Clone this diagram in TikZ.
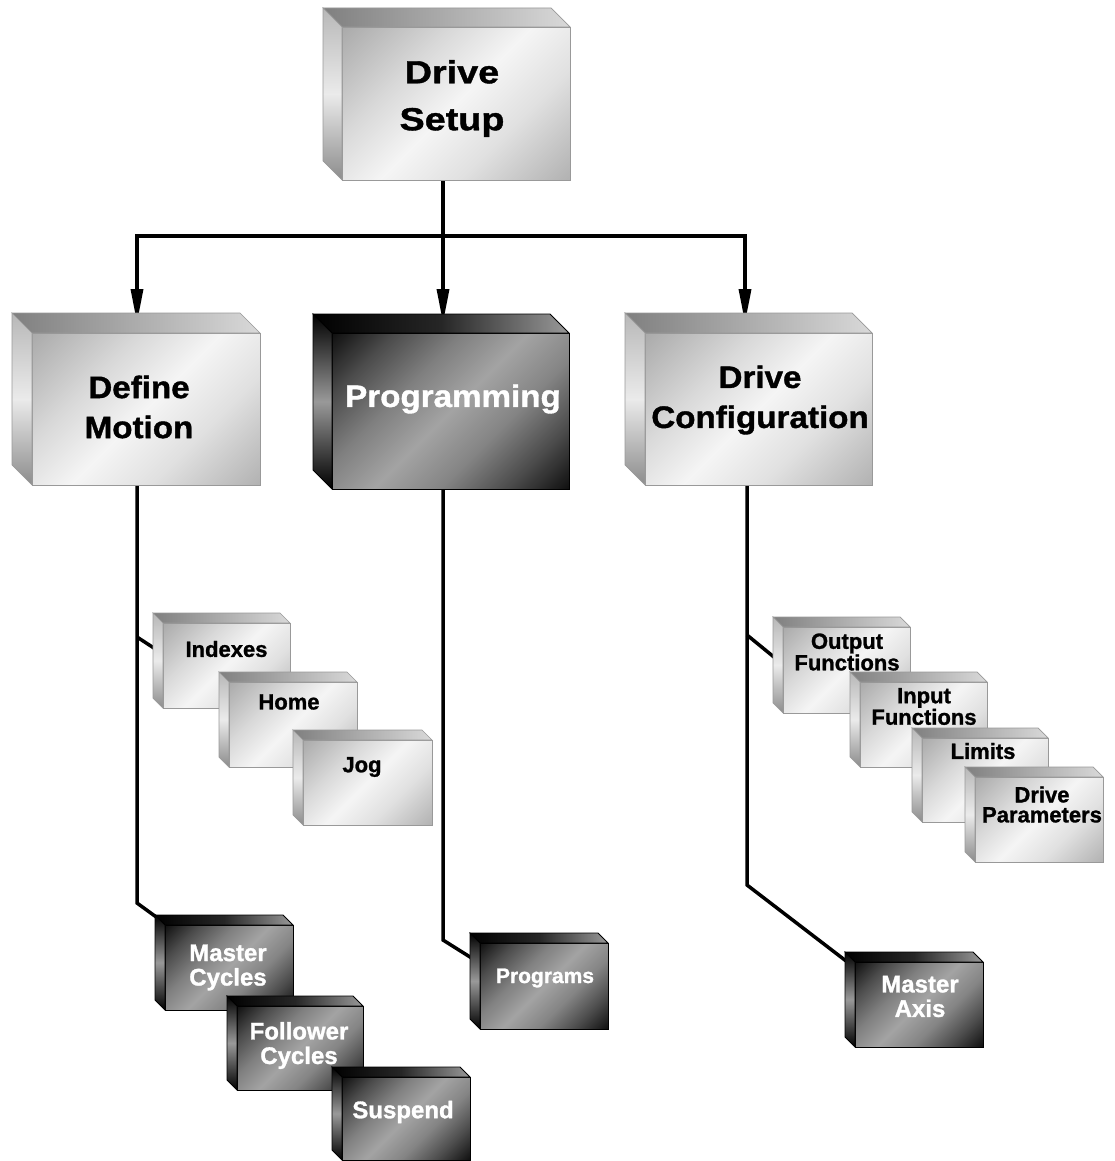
\documentclass[tikz,border=0pt]{standalone}
\usepackage{fontspec}
\setmainfont{Liberation Sans}[BoldFeatures={FakeBold=1.2}]
\newfontfamily\wideA{Liberation Sans}[FakeStretch=1.18,BoldFeatures={FakeBold=1.2}]
\newfontfamily\wideB{Liberation Sans}[FakeStretch=1.07,BoldFeatures={FakeBold=1.2}]
\usetikzlibrary{arrows.meta,calc}
\pgfdeclarelayer{bg}
\pgfsetlayers{bg,main}
\pgfdeclarehorizontalshading{darkstripe}{100bp}{color(0bp)=(black); color(14bp)=(black!95); color(26bp)=(black!70); color(38bp)=(black!50); color(50bp)=(black!36); color(62bp)=(black!48); color(74bp)=(black!70); color(86bp)=(black!95); color(100bp)=(black)}
\pgfdeclarehorizontalshading{lightstripe}{100bp}{color(0bp)=(black!40); color(15bp)=(black!33); color(35bp)=(black!15); color(50bp)=(black!4); color(65bp)=(black!12); color(85bp)=(black!30); color(100bp)=(black!38)}
\tikzset{
 lightface/.style={draw=black!40, line width=0.7pt, shading=lightstripe, shading angle=-45, inner sep=0pt, outer sep=0pt},
 lighttop/.style={draw=black!40, line width=0.7pt, left color=black!50, right color=black!15},
 lightside/.style={draw=black!40, line width=0.7pt, top color=black!28, bottom color=black!45, middle color=black!8},
 darkface/.style={draw=black, line width=0.8pt, shading=darkstripe, shading angle=-45, inner sep=0pt, outer sep=0pt},
 darktop/.style={draw=black, line width=0.8pt, left color=black, right color=black!40, middle color=black!85},
 darkside/.style={draw=black, line width=0.8pt, top color=black, bottom color=black, middle color=black!40},
 conn/.style={line width=3.5pt, line join=miter},
 arr/.style={conn, -{Triangle[length=34pt,width=12pt]}},
 ltxt/.style={text=black, align=center, inner sep=0pt},
 dtxt/.style={text=white, align=center, inner sep=0pt},
 bigA/.style={font={\wideA\fontsize{32}{47}\selectfont\bfseries}},
 bigB/.style={font={\wideB\fontsize{31}{40}\selectfont\bfseries}},
 smallL/.style={font={\fontsize{22}{20}\selectfont\bfseries}},
 smallD/.style={font={\fontsize{24}{24.5}\selectfont\bfseries}},
}
\newcommand\cube[6]{%
 \node[#1face, minimum width=#4pt, minimum height=#5pt] (#2) at (#3) {};
 \path[#1top] (#2.north west) -- (#2.north east) -- ++(-#6,-#6) -- ($(#2.north west)+(-#6,-#6)$) -- cycle;
 \path[#1side] (#2.north west) -- (#2.south west) -- ++(-#6,-#6) -- ($(#2.north west)+(-#6,-#6)$) -- cycle;
}
\begin{document}
\begin{tikzpicture}[x=1pt,y=-1pt]
\begin{pgfonlayer}{bg}
\fill[white] (0,0) rectangle (1114,1161);
\end{pgfonlayer}
\useasboundingbox (0,0) rectangle (1114,1161);

% main boxes
\cube{light}{ds}{456,103.5}{228}{153}{19}
\node[ltxt,bigA] at ($(ds.center)+(-4,-5)$) {Drive\\Setup};
\cube{light}{dm}{146,409}{228}{152}{20}
\node[ltxt,bigB] at ($(dm.center)+(-7,-2)$) {Define\\Motion};
\cube{dark}{pg}{450.5,411}{237}{156}{19}
\node[dtxt,bigB] at ($(pg.center)+(2.5,-12)$) {Programming};
\cube{light}{dc}{758.5,409}{227}{152}{20}
\node[ltxt,bigB] at ($(dc.center)+(1.5,-9)$) {Drive\\Configuration};

% define motion children
\cube{light}{ix}{226.5,665.5}{127}{85}{10}
\node[ltxt,smallL] at ($(ix.center)+(0,-16.5)$) {Indexes};
\cube{light}{hm}{293,724.5}{128}{85}{10}
\node[ltxt,smallL] at ($(hm.center)+(-4,-22.5)$) {Home};
\cube{light}{jg}{367.5,782.5}{129}{85}{10}
\node[ltxt,smallL] at ($(jg.center)+(-5.5,-15.5)$) {Jog};
\cube{dark}{mc}{229,967.5}{128}{85}{10}
\node[dtxt,smallD] at ($(mc.center)+(-1,0)$) {Master\\Cycles};
\cube{dark}{fc}{300,1048}{126}{84}{10}
\node[dtxt,smallD] at ($(fc.center)+(-1,-2.5)$) {Follower\\Cycles};
\cube{dark}{sp}{406,1118.5}{128}{83}{10}
\node[dtxt,smallD] at ($(sp.center)+(-3,-6.5)$) {Suspend};

% programming child
\cube{dark}{ps}{544,986}{128}{86}{10}
\node[dtxt,font={\fontsize{21}{24}\selectfont\bfseries}] at ($(ps.center)+(1,-8)$) {Programs};

% drive configuration children
\cube{light}{of}{846.5,670}{127}{86}{10}
\node[ltxt,smallL] at ($(of.center)+(0.5,-18)$) {Output\\Functions};
\cube{light}{if}{923.5,724.5}{127}{85}{10}
\node[ltxt,smallL] at ($(if.center)+(0.5,-18)$) {Input\\Functions};
\cube{light}{lm}{985,780}{126}{84}{10}
\node[ltxt,smallL] at ($(lm.center)+(-2,-29)$) {Limits};
\cube{light}{dp}{1039,819.5}{128}{85}{10}
\node[ltxt,smallL] at ($(dp.center)+(3,-15)$) {Drive\\Parameters};
\cube{dark}{ma}{919,1004.5}{128}{85}{10}
\node[dtxt,smallD] at ($(ma.center)+(1,-8)$) {Master\\Axis};

% connectors (behind boxes)
\begin{pgfonlayer}{bg}
\coordinate (hub) at ($(ds.south)+(-13,56)$);
\coordinate (dmin) at ($(dm.north)+(-9,-10)$);
\coordinate (pgin) at ($(pg.north)+(-7.5,-10)$);
\coordinate (dcin) at ($(dc.north)+(-13.5,-10)$);
\draw[arr] ($(ds.south)+(-13,0)$) -- (pgin);
\draw[arr] (hub) -| (dmin);
\draw[arr] (hub) -| (dcin);

\coordinate (dmout) at ($(dm.south)+(-9,0)$);
\coordinate (dmbr) at ($(dm.south)+(-9,152)$);
\draw[conn] (dmout) -- ++(0,418) -- ($(mc.north west)+(-6,-6)$);
\draw[conn] (dmbr) -- ($(ix.west)+(-3,-13.5)$);

\draw[conn] ($(pg.south)+(-7.5,0)$) -- ++(0,451) -- ($(ps.north west)+(-2,19)$);

\coordinate (dcout) at ($(dc.south)+(-11.5,0)$);
\coordinate (dcbr) at ($(dc.south)+(-11.5,150)$);
\draw[conn] (dcout) -- ++(0,400) -- ($(ma.north west)+(-5,2)$);
\draw[conn] (dcbr) -- ($(of.west)+(-3,-8)$);
\end{pgfonlayer}
\end{tikzpicture}
\end{document}
